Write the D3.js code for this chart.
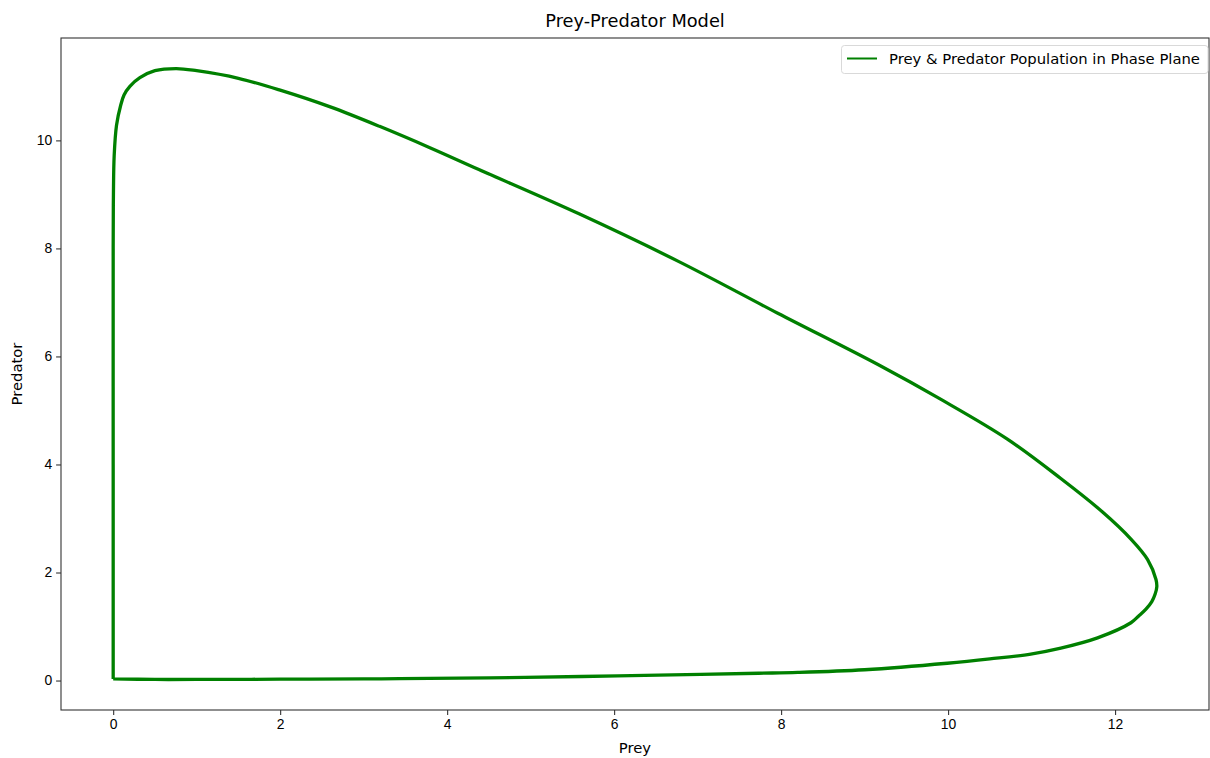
<!DOCTYPE html>
<html lang="en">
<head>
	<meta charset="utf-8">
	<title>Prey-Predator Model</title>
	<script src="https://d3js.org/d3.v7.min.js"></script>
	<style>
		body {
			margin: 0;
			background: #fff;
			font-family: "DejaVu Sans", sans-serif;
		}
		.tick text {
			font-size: 13.9px;
			fill: #000;
		}
	</style>
</head>
<body>
	<script>
	// phase plane loop (prey, predator)
	var prey = [0.0, 0.5, 1, 2, 3, 3.43, 4.5, 5.61, 6.53, 7.73, 8.2, 9.0, 9.99, 10.5, 10.99, 11.35, 11.79, 12.19, 12.28, 12.37, 12.44, 12.48, 12.5,
		12.49, 12.39, 12.19, 11.85, 11.35, 10.71, 9.92, 9.16, 7.96, 6.77, 5.58, 4.38, 3.8, 3.19, 2.6, 2.0, 1.5, 1.0, 0.757, 0.5, 0.32,
		0.2, 0.13, 0.09, 0.04, 0.012, 0.003, 0, 0, 0];
	var predator = [0.03, 0.02, 0.02, 0.025, 0.03, 0.035, 0.05, 0.075, 0.1, 0.135, 0.15, 0.2, 0.32, 0.40, 0.49, 0.60, 0.79, 1.07, 1.19, 1.32, 1.46, 1.6, 1.74,
		1.87, 2.24, 2.62, 3.12, 3.74, 4.47, 5.2, 5.85, 6.8, 7.76, 8.64, 9.46, 9.86, 10.26, 10.62, 10.93, 11.15, 11.29, 11.33, 11.29, 11.16,
		11.0, 10.84, 10.65, 10.28, 9.72, 9.0, 8.0, 4.0, 0.03];
	var xTicks = [0, 2, 4, 6, 8, 10, 12];
	var yTicks = [0, 2, 4, 6, 8, 10];

	var width = 1210;
	var height = 758;
	var margin = {top: 38, right: 1, bottom: 48, left: 61};

	var svg = d3.select("body")
		.append("svg")
		.attr("width", width)
		.attr("height", height);

	// matplotlib style 5% padding round the data
	var xExt = d3.extent(prey), yExt = d3.extent(predator);
	var xPad = (xExt[1] - xExt[0]) * 0.05, yPad = (yExt[1] - yExt[0]) * 0.05;

	var x = d3.scaleLinear()
		.domain([xExt[0] - xPad, xExt[1] + xPad])
		.range([margin.left, width - margin.right]);
	var y = d3.scaleLinear()
		.domain([yExt[0] - yPad, yExt[1] + yPad])
		.range([height - margin.bottom, margin.top]);

	var pts = d3.range(prey.length).map(function(i) { return [prey[i], predator[i]]; });

	var line = d3.line()
		.x(function(d) { return x(d[0]); })
		.y(function(d) { return y(d[1]); })
		.curve(d3.curveCatmullRom.alpha(0.5));

	svg.append("path")
		.datum(pts)
		.attr("fill", "none")
		.attr("stroke", "#008000")
		.attr("stroke-width", 3.3)
		.attr("stroke-linejoin", "round")
		.attr("d", line);

	// axes
	var xAxis = svg.append("g")
		.attr("transform", "translate(0," + (height - margin.bottom) + ")")
		.call(d3.axisBottom(x).tickValues(xTicks).tickSize(4.9).tickPadding(4));
	var yAxis = svg.append("g")
		.attr("transform", "translate(" + margin.left + ",0)")
		.call(d3.axisLeft(y).tickValues(yTicks).tickSize(4.9).tickPadding(4));
	[xAxis, yAxis].forEach(function(a) {
		a.select(".domain").remove();
		a.selectAll(".tick line").attr("stroke", "#333").attr("stroke-width", 1.1);
	});

	// frame
	svg.append("rect")
		.attr("x", margin.left)
		.attr("y", margin.top)
		.attr("width", width - margin.right - margin.left)
		.attr("height", height - margin.bottom - margin.top)
		.attr("fill", "none")
		.attr("stroke", "#333")
		.attr("stroke-width", 1.1);

	// labels
	svg.append("text")
		.attr("x", (margin.left + width - margin.right) / 2)
		.attr("y", 27)
		.attr("text-anchor", "middle")
		.attr("font-size", "17.8px")
		.text("Prey-Predator Model");
	svg.append("text")
		.attr("x", (margin.left + width - margin.right) / 2)
		.attr("y", 753)
		.attr("text-anchor", "middle")
		.attr("font-size", "14.8px")
		.text("Prey");
	svg.append("text")
		.attr("transform", "translate(22," + ((margin.top + height - margin.bottom) / 2) + ") rotate(-90)")
		.attr("text-anchor", "middle")
		.attr("font-size", "14.8px")
		.text("Predator");

	// legend
	var lg = svg.append("g");
	lg.append("rect")
		.attr("x", 841.5).attr("y", 45.5)
		.attr("width", 366.5).attr("height", 28)
		.attr("rx", 3)
		.attr("fill", "#fff").attr("fill-opacity", 0.8)
		.attr("stroke", "#d9d9d9");
	lg.append("line")
		.attr("x1", 847).attr("x2", 877)
		.attr("y1", 58.5).attr("y2", 58.5)
		.attr("stroke", "#008000").attr("stroke-width", 2);
	lg.append("text")
		.attr("x", 889).attr("y", 64)
		.attr("font-size", "14.8px")
		.text("Prey & Predator Population in Phase Plane");
	</script>
</body>
</html>
